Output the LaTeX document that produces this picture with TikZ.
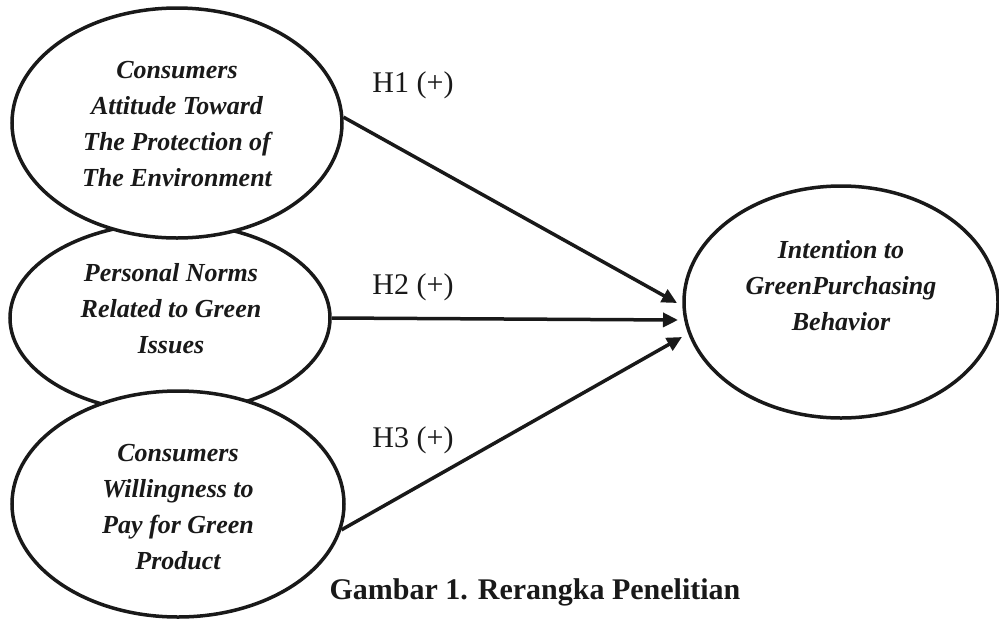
\documentclass[tikz,border=0pt]{standalone}
\usepackage{fontspec}
\setmainfont{Liberation Serif}
\usetikzlibrary{shapes.geometric,arrows.meta}
\tikzset{
  oval/.style={draw=black!90, line width=3.5pt, ellipse, fill=white, inner sep=0pt},
  ovaltext/.style={align=center, font=\fontsize{26}{36}\selectfont\bfseries\itshape, text=black!90},
  hyp/.style={font=\fontsize{30}{36}\selectfont, text=black!90},
  link/.style={draw=black!90, line width=3.5pt, -{Triangle[length=15pt,width=14pt]}}
}
\begin{document}
\begin{tikzpicture}[x=1pt,y=-1pt]
\useasboundingbox (0,0) rectangle (999,619);
% ellipses (middle first, then the overlapping ones)
\node[oval, minimum width=320pt, minimum height=190pt] (B) at (170,318) {};
\node[oval, minimum width=330pt, minimum height=230pt] (A) at (177,123) {};
\node[oval, minimum width=332pt, minimum height=226pt] (C) at (178,504) {};
\node[oval, minimum width=314pt, minimum height=232pt] (D) at (841,302) {};
% texts
\node[ovaltext] (ta) at (177,124) {Consumers\\Attitude Toward\\The Protection of\\The Environment};
\node[ovaltext] (tb) at (171,309) {Personal Norms\\Related to Green\\Issues};
\node[ovaltext] (tc) at (178,507) {Consumers\\Willingness to\\Pay for Green\\Product};
\node[ovaltext] (td) at (841,286) {Intention to\\GreenPurchasing\\Behavior};
% arrow ends
\coordinate (e1) at (677,303);
\coordinate (e2) at (678,320);
\coordinate (e3) at (682,337);
\draw[link] (A.2) -- (e1);
\draw[link] (B.east) -- (e2);
\draw[link] (C.-9) -- (e3);
% labels
\node[hyp] (h1) at (413,85) {H1 (+)};
\node[hyp] (h2) at (413,287) {H2 (+)};
\node[hyp] (h3) at (413,440) {H3 (+)};
\node[font=\fontsize{30}{36}\selectfont\bfseries, text=black!90] (cap) at (535,592) {Gambar 1. Rerangka Penelitian};
\end{tikzpicture}
\end{document}
